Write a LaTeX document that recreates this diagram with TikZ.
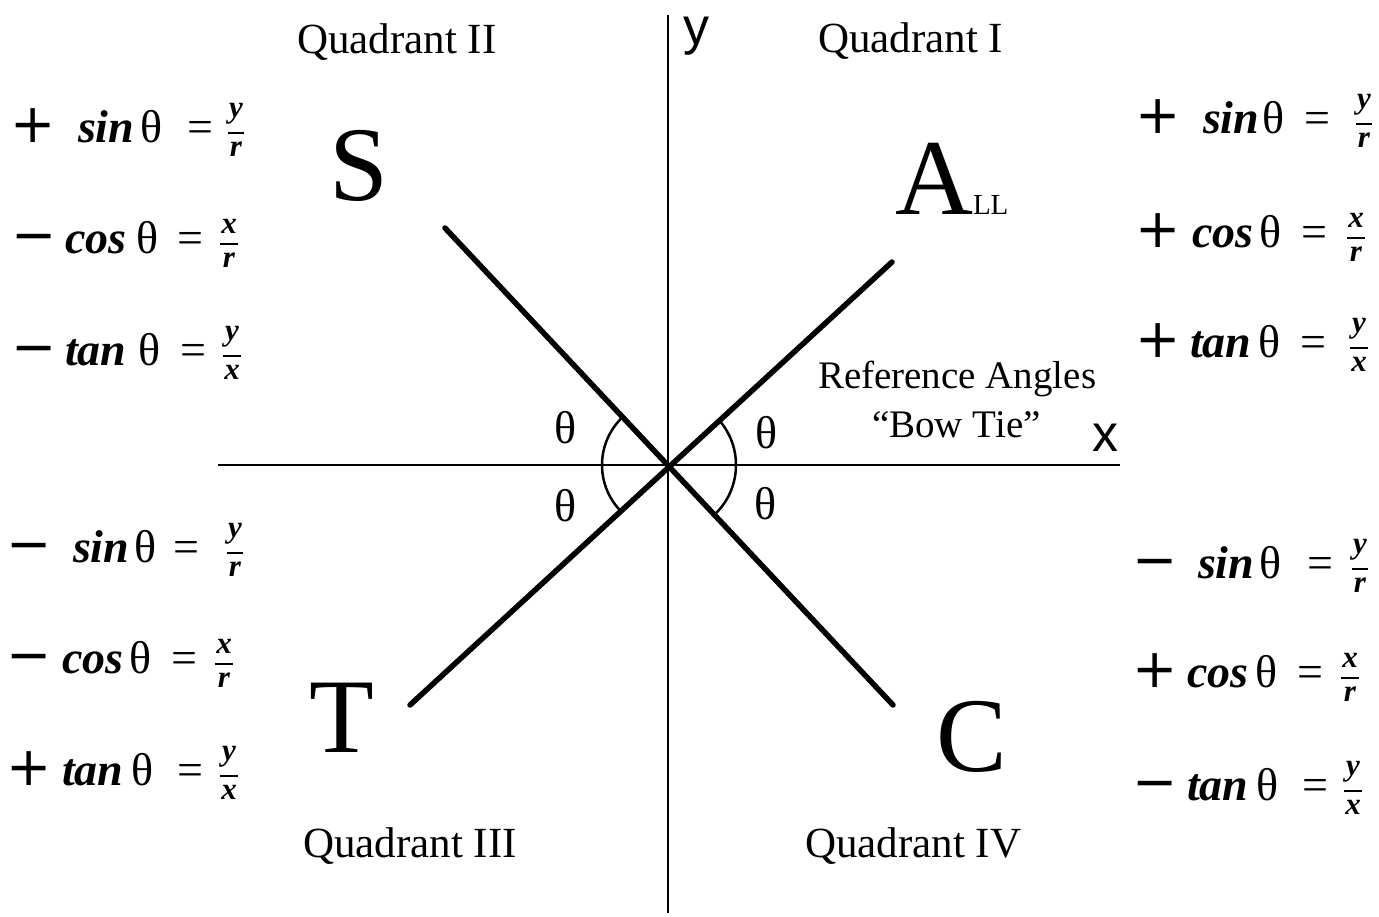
\documentclass[tikz,border=0pt]{standalone}
\usepackage{fontspec}
\usepackage{amsmath}
\setmainfont{Liberation Serif}
\newfontfamily\dvs{DejaVu Sans}
\newfontfamily\lsans{Liberation Sans}
\begin{document}
\begin{tikzpicture}[x=1pt,y=-1pt,
  txt/.style={inner sep=0pt, outer sep=0pt},
  quad/.style={txt, font=\fontsize{43}{43}\selectfont, anchor=base west},
  refl/.style={txt, font=\fontsize{39}{39}\selectfont, anchor=base west},
  big/.style={txt, font=\fontsize{106}{106}\selectfont, anchor=base},
  thl/.style={txt, font=\fontsize{46}{46}\selectfont},
  axlab/.style={txt, font=\lsans\fontsize{52}{52}\selectfont},
  axisline/.style={line width=2pt},
  bow/.style={line width=5.5pt, line cap=round},
  angarc/.style={line width=2.5pt},
  sgn/.style={txt, font=\dvs\fontsize{54}{54}\selectfont, anchor=base},
  fn/.style={txt, font=\fontsize{46}{46}\selectfont\bfseries\itshape, anchor=base west},
  eqth/.style={txt, font=\fontsize{46}{46}\selectfont, anchor=base west},
  frc/.style={txt, font=\fontsize{31}{31}\selectfont, anchor=base}]
\useasboundingbox (0,0) rectangle (1379,916);
\fill[white] (0,0) rectangle (1379,916);
% axes
\coordinate (O) at (668,465);
\coordinate (xl) at (218,465);
\coordinate (xr) at (1120,465);
\coordinate (yt) at (668,15);
\coordinate (yb) at (668,913);
\draw[axisline] (xl) -- (xr);
\draw[axisline] (yt) -- (yb);
\node[axlab] (ylab) at (696,36) {y};
\node[axlab] (xlab) at (1105,438) {x};
% bow tie
\coordinate (b1) at (445,228);
\coordinate (b2) at (893,705);
\coordinate (b3) at (410,705);
\coordinate (b4) at (892,262);
\draw[bow] (b1) -- (b2);
\draw[bow] (b3) -- (b4);
% angle arcs
\draw[angarc] (O) ++(-133.3:66) arc[start angle=-133.3, end angle=-222.9, radius=66];
\draw[angarc] (O) ++(-42.2:68) arc[start angle=-42.2, end angle=46.8, radius=68];
\node[thl] (th1) at (566,428) {θ};
\node[thl] (th2) at (566,506) {θ};
\node[thl] (th3) at (767,433) {θ};
\node[thl] (th4) at (766,504) {θ};
% quadrant labels
\node[quad] (q2) at (297,53) {Quadrant II};
\node[quad] (q1) at (818,52) {Quadrant I};
\node[quad] (q3) at (303,857) {Quadrant III};
\node[quad] (q4) at (805,857) {Quadrant IV};
% big letters
\node[big] (S) at (359,200) {S};
\node[big] (T) at (342,752) {T};
\node[big] (C) at (972,771) {C};
\node[txt, font=\fontsize{108}{108}\selectfont, anchor=base west] (A) at (895,214) {A{\fontsize{29}{29}\selectfont LL}};
% reference angles
\node[refl] (ref1) at (818,388) {Reference Angles};
\node[refl] (ref2) at (872,437) {“Bow Tie”};
% equations
\foreach \id/\sg/\sx/\fnm/\wx/\by/\tx/\ex/\fx/\nu/\de in {
  L1/+/33/sin/78/142/140/187/236/y/r,
  L2/−/34/cos/65/253/136/177/229/x/r,
  L3/−/34/tan/65/365/138/180/232/y/x,
  L4/−/29/sin/73/562/134/173/235/y/r,
  L5/−/29/cos/62/673/129/171/224/x/r,
  L6/+/29/tan/62/785/131/177/229/y/x,
  R1/+/1158/sin/1203/133/1262/1304/1364/y/r,
  R2/+/1158/cos/1192/247/1259/1301/1356/x/r,
  R3/+/1158/tan/1190/357/1258/1300/1359/y/x,
  R4/−/1155/sin/1198/578/1259/1307/1360/y/r,
  R5/+/1155/cos/1187/687/1255/1297/1350/x/r,
  R6/−/1155/tan/1187/800/1256/1302/1353/y/x}
{
  \node[sgn] (s\id) at (\sx,\by) {\sg};
  \node[fn] (f\id) at (\wx,\by) {\fnm};
  \node[eqth] (t\id) at (\tx,\by) {θ};
  \node[eqth] (e\id) at (\ex,\by) {=};
  \node[frc] (q\id) at (\fx,\by-3) {$\genfrac{}{}{2.5pt}{0}{\kern1.5pt\text{\bfseries\itshape \nu}\kern1.5pt}{\kern1.5pt\text{\bfseries\itshape \de}\kern1.5pt}$};
}
\end{tikzpicture}
\end{document}
